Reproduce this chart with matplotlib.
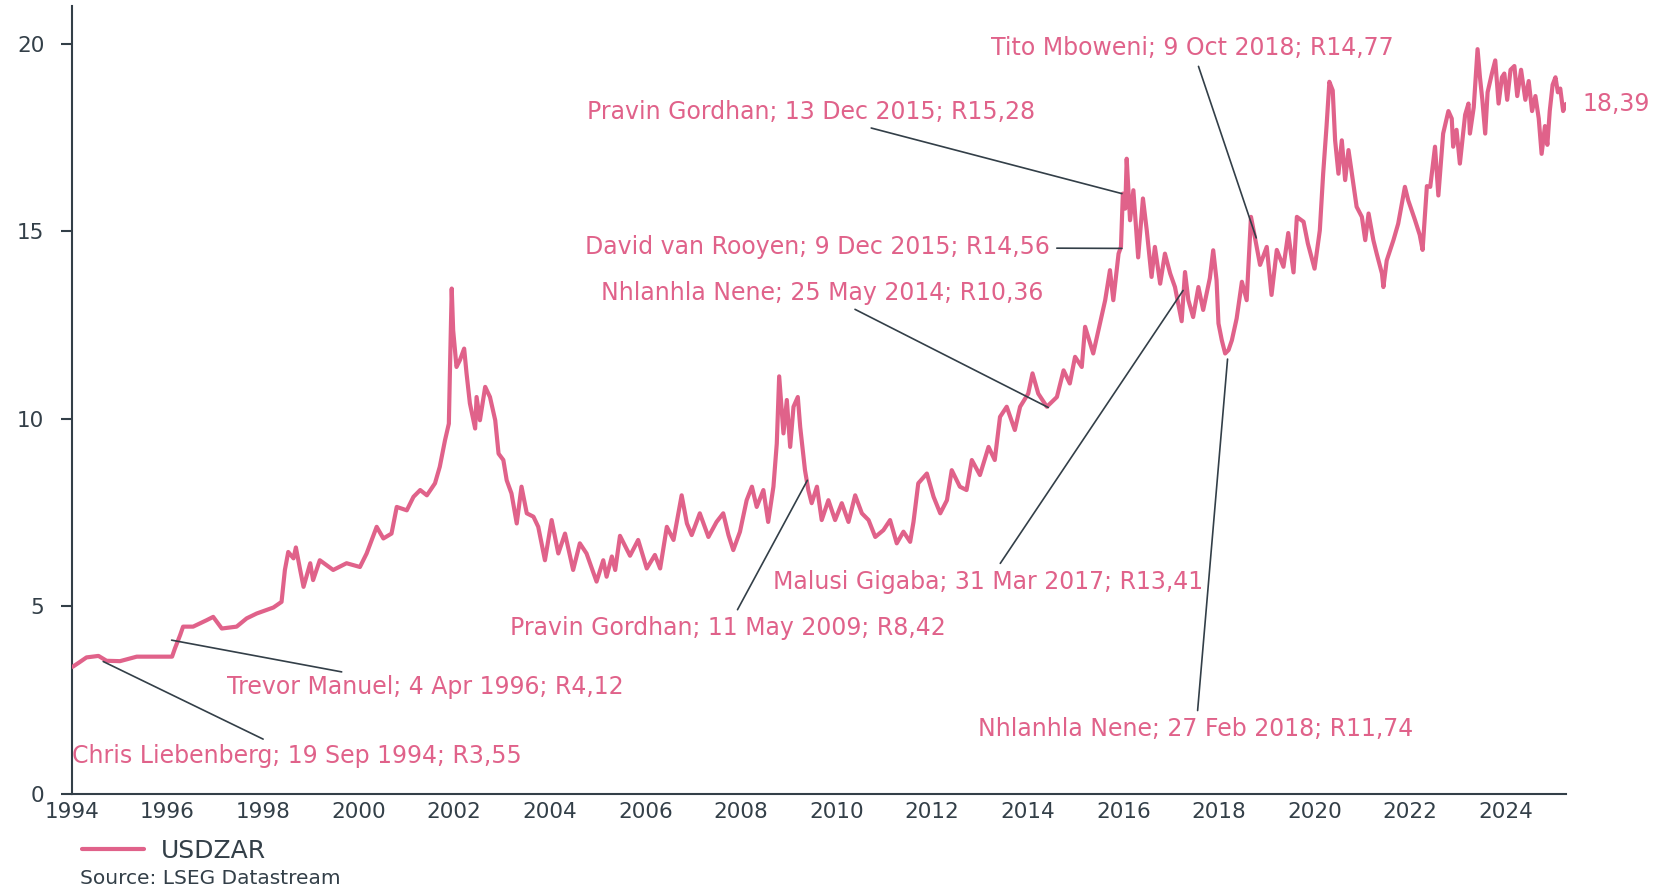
import matplotlib
matplotlib.use("Agg")
import matplotlib.pyplot as plt

# ---------------- data (decimal year, USDZAR) ----------------
dates = [
    1994.02, 1994.15, 1994.31, 1994.56, 1994.73, 1995.01, 1995.36, 1995.71, 1996.10, 1996.16,
    1996.27, 1996.33, 1996.54, 1996.82, 1996.96, 1997.14, 1997.45, 1997.66, 1997.87, 1998.22,
    1998.39, 1998.46, 1998.53, 1998.64, 1998.69, 1998.78, 1998.85, 1998.99, 1999.05, 1999.19,
    1999.47, 1999.75, 2000.03, 2000.17, 2000.38, 2000.52, 2000.69, 2000.80, 2001.01, 2001.15,
    2001.29, 2001.43, 2001.60, 2001.70, 2001.81, 2001.89, 2001.91, 2001.95, 2001.98, 2002.05,
    2002.12, 2002.21, 2002.26, 2002.33, 2002.44, 2002.47, 2002.54, 2002.65, 2002.75, 2002.86,
    2002.93, 2003.03, 2003.10, 2003.20, 2003.31, 2003.41, 2003.52, 2003.66, 2003.76, 2003.90,
    2004.04, 2004.18, 2004.32, 2004.49, 2004.63, 2004.77, 2004.98, 2005.12, 2005.19, 2005.30,
    2005.37, 2005.47, 2005.68, 2005.85, 2006.03, 2006.20, 2006.31, 2006.45, 2006.59, 2006.76,
    2006.87, 2006.97, 2007.14, 2007.32, 2007.49, 2007.63, 2007.74, 2007.84, 2007.98, 2008.12,
    2008.23, 2008.33, 2008.47, 2008.57, 2008.68, 2008.75, 2008.80, 2008.89, 2008.96, 2009.03,
    2009.10, 2009.19, 2009.24, 2009.34, 2009.41, 2009.48, 2009.59, 2009.69, 2009.83, 2009.97,
    2010.11, 2010.25, 2010.39, 2010.53, 2010.67, 2010.81, 2010.98, 2011.12, 2011.26, 2011.40,
    2011.54, 2011.61, 2011.71, 2011.89, 2012.03, 2012.17, 2012.31, 2012.41, 2012.58, 2012.72,
    2012.83, 2013.00, 2013.18, 2013.31, 2013.42, 2013.56, 2013.73, 2013.84, 2014.01, 2014.10,
    2014.22, 2014.40, 2014.61, 2014.75, 2014.88, 2014.99, 2015.13, 2015.20, 2015.37, 2015.51,
    2015.62, 2015.72, 2015.79, 2015.90, 2015.95, 2015.99, 2016.04, 2016.07, 2016.14, 2016.21,
    2016.31, 2016.41, 2016.49, 2016.59, 2016.66, 2016.77, 2016.87, 2016.98, 2017.08, 2017.22,
    2017.29, 2017.36, 2017.46, 2017.57, 2017.67, 2017.81, 2017.88, 2017.95, 2017.99, 2018.06,
    2018.13, 2018.20, 2018.27, 2018.37, 2018.48, 2018.58, 2018.67, 2018.75, 2018.86, 2019.00,
    2019.10, 2019.21, 2019.35, 2019.45, 2019.56, 2019.63, 2019.77, 2019.86, 2020.00, 2020.11,
    2020.18, 2020.25, 2020.31, 2020.38, 2020.43, 2020.50, 2020.57, 2020.64, 2020.71, 2020.81,
    2020.88, 2020.99, 2021.06, 2021.13, 2021.23, 2021.30, 2021.41, 2021.44, 2021.51, 2021.65,
    2021.75, 2021.89, 2021.96, 2022.10, 2022.20, 2022.26, 2022.35, 2022.42, 2022.52, 2022.59,
    2022.69, 2022.80, 2022.87, 2022.90, 2022.97, 2023.04, 2023.15, 2023.22, 2023.25, 2023.33,
    2023.41, 2023.46, 2023.51, 2023.57, 2023.62, 2023.71, 2023.78, 2023.85, 2023.92, 2023.97,
    2024.03, 2024.10, 2024.18, 2024.24, 2024.32, 2024.41, 2024.48, 2024.55, 2024.62, 2024.69,
    2024.75, 2024.82, 2024.87, 2024.92, 2024.98, 2025.04, 2025.09, 2025.14, 2025.20, 2025.26,
]
usdzar = [
    3.39, 3.50, 3.64, 3.68, 3.55, 3.54, 3.66, 3.66, 3.66, 3.88,
    4.24, 4.46, 4.46, 4.63, 4.72, 4.41, 4.46, 4.68, 4.81, 4.97,
    5.12, 5.97, 6.45, 6.28, 6.57, 5.97, 5.52, 6.15, 5.70, 6.23,
    5.97, 6.15, 6.05, 6.41, 7.12, 6.81, 6.94, 7.65, 7.56, 7.92,
    8.10, 7.96, 8.28, 8.72, 9.43, 9.87, 11.12, 13.47, 12.36, 11.38,
    11.56, 11.87, 11.21, 10.41, 9.74, 10.58, 9.96, 10.85, 10.58, 9.96,
    9.07, 8.90, 8.36, 8.01, 7.21, 8.19, 7.48, 7.39, 7.12, 6.23,
    7.30, 6.41, 6.94, 5.97, 6.68, 6.41, 5.66, 6.23, 5.79, 6.33,
    5.97, 6.88, 6.35, 6.77, 6.01, 6.37, 6.01, 7.12, 6.77, 7.96,
    7.21, 6.90, 7.48, 6.85, 7.25, 7.48, 6.90, 6.50, 6.99, 7.83,
    8.19, 7.65, 8.10, 7.25, 8.19, 9.34, 11.13, 9.61, 10.50, 9.25,
    10.32, 10.58, 9.78, 8.63, 8.10, 7.75, 8.19, 7.30, 7.83, 7.30,
    7.75, 7.25, 7.96, 7.48, 7.30, 6.85, 7.03, 7.30, 6.68, 6.99,
    6.72, 7.25, 8.28, 8.54, 7.92, 7.48, 7.83, 8.63, 8.19, 8.10,
    8.90, 8.50, 9.25, 8.90, 10.05, 10.32, 9.70, 10.32, 10.67, 11.21,
    10.67, 10.32, 10.58, 11.29, 10.94, 11.65, 11.38, 12.45, 11.74, 12.54,
    13.16, 13.96, 13.16, 14.40, 14.58, 16.00, 15.60, 16.93, 15.29, 16.09,
    14.30, 15.87, 15.02, 13.78, 14.58, 13.60, 14.40, 13.87, 13.51, 12.60,
    13.91, 13.16, 12.71, 13.51, 12.90, 13.75, 14.49, 13.69, 12.54, 12.09,
    11.74, 11.83, 12.09, 12.67, 13.65, 13.16, 15.38, 14.85, 14.10, 14.58,
    13.30, 14.50, 14.05, 14.95, 13.90, 15.38, 15.25, 14.67, 14.00, 15.02,
    16.53, 17.78, 18.98, 18.75, 17.42, 16.53, 17.42, 16.36, 17.16, 16.27,
    15.65, 15.38, 14.76, 15.47, 14.76, 14.40, 13.87, 13.51, 14.22, 14.76,
    15.20, 16.18, 15.82, 15.30, 14.90, 14.50, 16.20, 16.18, 17.25, 15.95,
    17.60, 18.20, 18.00, 17.25, 17.70, 16.80, 18.10, 18.40, 17.60, 18.30,
    19.85, 19.10, 18.50, 17.60, 18.70, 19.20, 19.55, 18.40, 19.10, 19.20,
    18.50, 19.30, 19.40, 18.60, 19.30, 18.50, 19.00, 18.20, 18.60, 18.00,
    17.06, 17.80, 17.30, 18.20, 18.90, 19.10, 18.70, 18.80, 18.20, 18.39,
]

series_name = "USDZAR"
last_label = "18,39"
source_text = "Source: LSEG Datastream"

ann_labels = [
    "Chris Liebenberg; 19 Sep 1994; R3,55",
    "Trevor Manuel; 4 Apr 1996; R4,12",
    "Pravin Gordhan; 11 May 2009; R8,42",
    "Nhlanhla Nene; 25 May 2014; R10,36",
    "David van Rooyen; 9 Dec 2015; R14,56",
    "Pravin Gordhan; 13 Dec 2015; R15,28",
    "Malusi Gigaba; 31 Mar 2017; R13,41",
    "Nhlanhla Nene; 27 Feb 2018; R11,74",
    "Tito Mboweni; 9 Oct 2018; R14,77",
]
ann_x = [1994.66, 1996.09, 2009.39, 2014.43, 2015.97, 2015.97, 2017.25, 2018.18, 2018.78]
ann_y = [3.53, 4.10, 8.36, 10.30, 14.54, 16.00, 13.42, 11.59, 14.82]
ann_text_x = [1998.72, 2001.39, 2007.72, 2009.70, 2009.60, 2009.46, 2013.17, 2017.52, 2017.44]
ann_text_y = [1.02, 2.84, 4.42, 13.36, 14.57, 18.17, 5.66, 1.72, 19.89]

year_ticks = list(range(1994, 2025, 2))
value_ticks = [0, 5, 10, 15, 20]

# ---------------- style ----------------
PINK = "#E0628A"
DARK = "#333F48"
FONT = "DejaVu Sans"
plt.rcParams["font.family"] = [FONT]

fig = plt.figure(figsize=(16.55, 8.90), dpi=100)
ax = fig.add_axes([0.04332, 0.10787, 0.90290, 0.88539])

ax.plot(dates, usdzar, color=PINK, lw=3.0, solid_joinstyle="round",
        solid_capstyle="round", label=series_name, zorder=3)

ax.set_xlim(1994.0, dates[-1])
ax.set_ylim(0, 21)
ax.set_xticks(year_ticks)
ax.set_xticklabels([str(y) for y in year_ticks])
ax.set_yticks(value_ticks)

for s in ("top", "right"):
    ax.spines[s].set_visible(False)
for s in ("left", "bottom"):
    ax.spines[s].set_color(DARK)
    ax.spines[s].set_linewidth(1.5)

ax.tick_params(axis="y", length=7.7, width=1.5, pad=12, colors=DARK, labelsize=15.5)
ax.tick_params(axis="x", length=0, pad=6, colors=DARK, labelsize=15.5)

for lab, x, y, tx, ty in zip(ann_labels, ann_x, ann_y, ann_text_x, ann_text_y):
    ax.annotate(lab, xy=(x, y), xytext=(tx, ty), textcoords="data",
                ha="center", va="center", color=PINK, fontsize=17,
                annotation_clip=False, zorder=4,
                arrowprops=dict(arrowstyle="-", color=DARK, lw=1.2,
                                shrinkA=3, shrinkB=0))

ax.annotate(last_label, xy=(dates[-1], usdzar[-1]), xytext=(12, 0),
            textcoords="offset points", ha="left", va="center",
            color=PINK, fontsize=17, annotation_clip=False)

fig.legend(loc="center left", bbox_to_anchor=(0.0495, 0.0442),
           bbox_transform=fig.transFigure, frameon=False, fontsize=18,
           handlelength=2.5, handletextpad=0.65, borderpad=0, borderaxespad=0,
           labelcolor=DARK)

fig.text(80 / 1655, (890 - 879) / 890, source_text, ha="left", va="center",
         fontsize=14.5, color=DARK)

fig.savefig("out.png", dpi=100)
